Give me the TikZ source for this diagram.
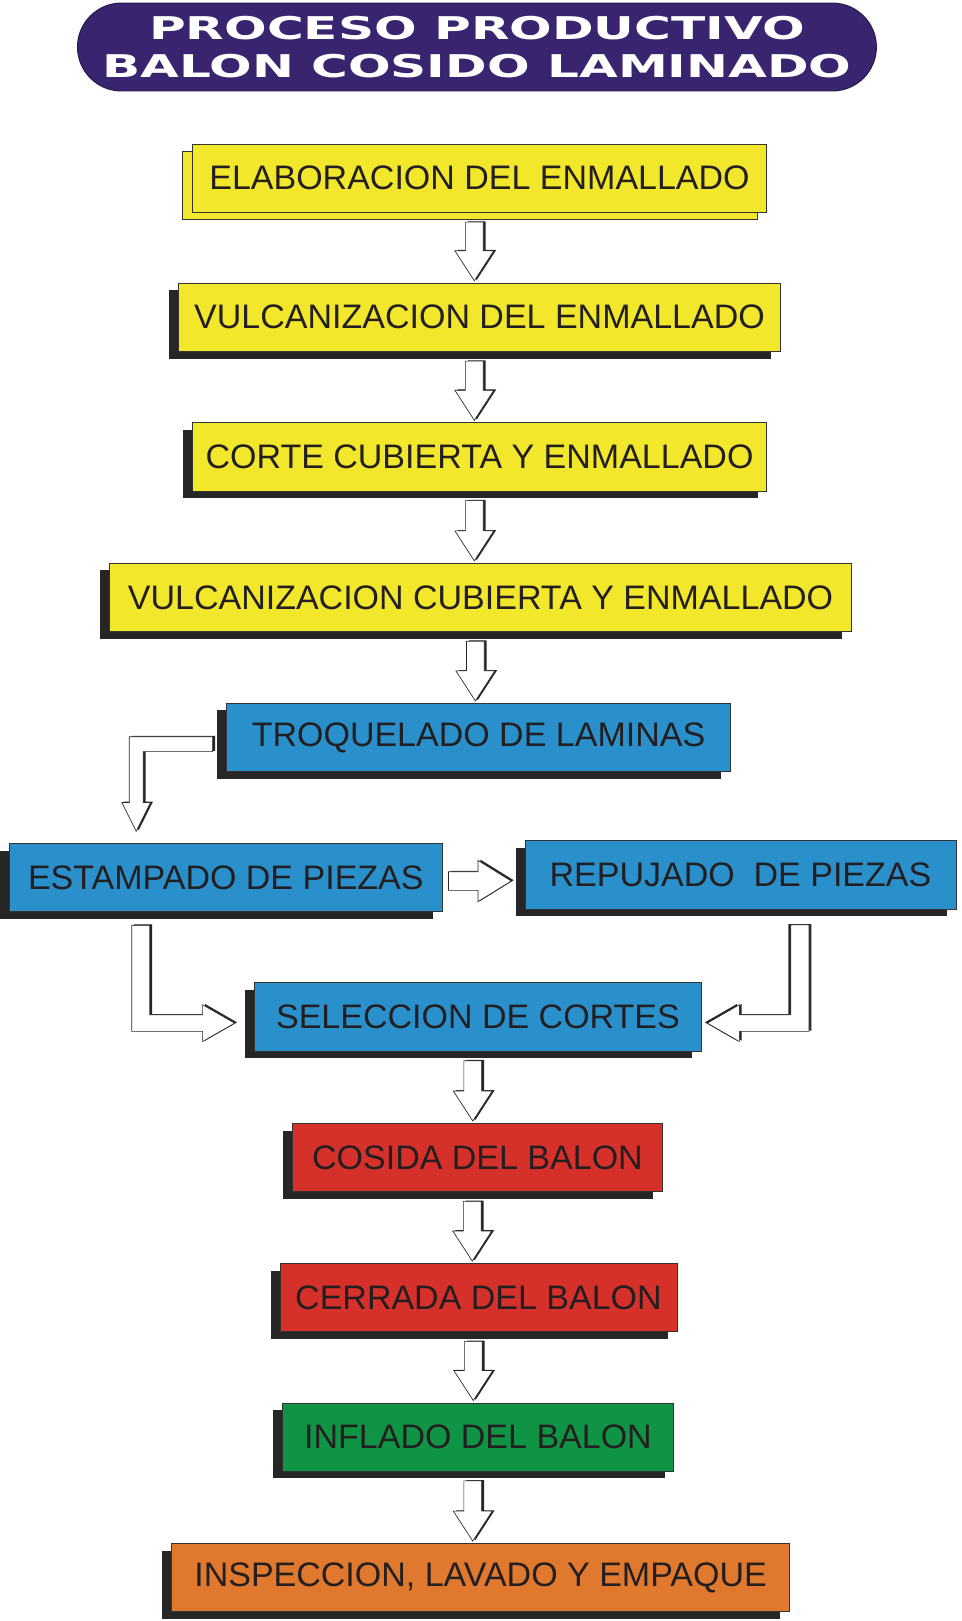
\documentclass[tikz,border=0pt]{standalone}
\usepackage{fontspec}
\setmainfont{Liberation Sans}
\newfontfamily\titlefont[FakeStretch=1.6]{DejaVu Sans}
\usetikzlibrary{shadows,calc}

\definecolor{amarillo}{RGB}{242,231,42}
\definecolor{azul}{RGB}{41,144,204}
\definecolor{rojo}{RGB}{214,48,43}
\definecolor{verde}{RGB}{15,148,70}
\definecolor{naranja}{RGB}{224,120,46}
\definecolor{morado}{RGB}{57,36,112}
\definecolor{texto}{RGB}{35,31,32}

\newcommand{\pxu}{0.7751pt}

\tikzset{
  caja/.style={rectangle, draw=black!80, line width=0.6pt, minimum height={66*\pxu},
    inner sep=0pt, text=texto, font=\fontsize{25.5}{30}\selectfont},
  paso/.style={caja, drop shadow={shadow xshift=-7pt, shadow yshift=-5.4pt, fill=black!85, opacity=1}},
  doble/.style={caja, general shadow={shadow xshift=-7pt, shadow yshift=-5.4pt, fill=amarillo, draw=black!80, line width=0.6pt}},
  flecha/.style={fill=white, draw=black!85, line width=0.5pt, line join=miter,
    drop shadow={shadow xshift=1.8pt, shadow yshift=0.6pt, fill=black!85, opacity=1}},
  flechaizq/.style={flecha, drop shadow={shadow xshift=-1.8pt, shadow yshift=0.6pt, fill=black!85, opacity=1}},
}

% flecha vertical entre dos pasos
\newcommand{\bajar}[2]{%
  \draw[flecha] let \p1=($(#1.south)+(-3.9pt,-7pt)$), \p2=($(#2.north)+(0,1.5pt)$) in
    ({\x1-6.7pt},\y1) -- ({\x1+6.7pt},\y1) -- ({\x1+6.7pt},{\y2+22.5pt})
    -- ({\x1+14.6pt},{\y2+22.5pt}) -- (\x1,\y2) -- ({\x1-14.6pt},{\y2+22.5pt})
    -- ({\x1-6.7pt},{\y2+22.5pt}) -- cycle;}

\begin{document}
\begin{tikzpicture}[x=\pxu, y=-\pxu]
  \useasboundingbox (0,0) rectangle (929.9,1568.5);

  % titulo
  \node[rectangle, rounded corners=33pt, fill=morado, draw=morado!70!black, line width=0.8pt,
    minimum width={773*\pxu}, minimum height={85*\pxu}, inner sep=0pt, text=white, align=center,
    font=\titlefont\bfseries\fontsize{23.5}{28.7}\selectfont] (titulo) at (461.5,45.5)
    {PROCESO PRODUCTIVO\\BALON COSIDO LAMINADO};

  % pasos
  \node[doble, fill=amarillo, minimum width={556*\pxu}] (elab) at (464,172.5) {ELABORACION DEL ENMALLADO};
  \node[paso, fill=amarillo, minimum width={582*\pxu}] (vulcen) at (464,307) {VULCANIZACION DEL ENMALLADO};
  \node[paso, fill=amarillo, minimum width={556*\pxu}] (corte) at (464,442) {CORTE CUBIERTA Y ENMALLADO};
  \node[paso, fill=amarillo, minimum width={718*\pxu}] (vulccub) at (465,578) {VULCANIZACION CUBIERTA Y ENMALLADO};
  \node[paso, fill=azul, minimum width={488*\pxu}] (troq) at (463,713.5) {TROQUELADO DE LAMINAS};
  \node[paso, fill=azul, minimum width={419*\pxu}] (estamp) at (218.5,849) {ESTAMPADO DE PIEZAS};
  \node[paso, fill=azul, minimum width={417*\pxu}] (repuj) at (716.5,846.5) {REPUJADO\ \ DE PIEZAS};
  \node[paso, fill=azul, minimum width={433*\pxu}] (selec) at (462.5,984) {SELECCION DE CORTES};
  \node[paso, fill=rojo, minimum width={358*\pxu}] (cosida) at (462,1120) {COSIDA DEL BALON};
  \node[paso, fill=rojo, minimum width={384*\pxu}] (cerrada) at (463,1255.5) {CERRADA DEL BALON};
  \node[paso, fill=verde, minimum width={379*\pxu}] (inflado) at (462.5,1390.5) {INFLADO DEL BALON};
  \node[paso, fill=naranja, minimum width={598*\pxu}] (inspec) at (465,1526.5) {INSPECCION, LAVADO Y EMPAQUE};

  % flechas rectas
  \bajar{elab}{vulcen}
  \bajar{vulcen}{corte}
  \bajar{corte}{vulccub}
  \bajar{vulccub}{troq}
  \bajar{selec}{cosida}
  \bajar{cosida}{cerrada}
  \bajar{cerrada}{inflado}
  \bajar{inflado}{inspec}

  % troquelado -> estampado
  \draw[flecha] let \p1=(troq.west), \p2=(estamp.north) in
    ({\x1-10pt},{\y1+0.5pt}) -- ({\x2-72.4pt},{\y1+0.5pt}) -- ({\x2-72.4pt},{\y2+30.3pt})
    -- ({\x2-78pt},{\y2+30.3pt}) -- ({\x2-67.2pt},{\y2+8.8pt}) -- ({\x2-56.4pt},{\y2+30.3pt})
    -- ({\x2-62pt},{\y2+30.3pt}) -- ({\x2-62pt},{\y1-10.7pt}) -- ({\x1-10pt},{\y1-10.7pt}) -- cycle;

  % estampado -> repujado
  \draw[flecha] let \p1=($(estamp.east)+(4.3pt,-2.7pt)$), \p2=(repuj.west) in
    (\x1,{\y1+7pt}) -- ({\x2-35pt},{\y1+7pt}) -- ({\x2-35pt},{\y1+15.5pt}) -- ({\x2-10pt},\y1)
    -- ({\x2-35pt},{\y1-15.5pt}) -- ({\x2-35pt},{\y1-7pt}) -- (\x1,{\y1-7pt}) -- cycle;

  % estampado -> seleccion
  \draw[flecha] let \p1=(estamp.south), \p2=(selec.west) in
    ({\x1-70.6pt},{\y1-10pt}) -- ({\x1-57pt},{\y1-10pt}) -- ({\x1-57pt},{\y2+1.55pt})
    -- ({\x2-38.4pt},{\y2+1.55pt}) -- ({\x2-38.4pt},{\y2+9.15pt}) -- ({\x2-14.4pt},{\y2-4.65pt})
    -- ({\x2-38.4pt},{\y2-18.45pt}) -- ({\x2-38.4pt},{\y2-10.85pt}) -- ({\x1-70.6pt},{\y2-10.85pt}) -- cycle;

  % repujado -> seleccion
  \draw[flechaizq] let \p1=(repuj.south), \p2=(selec.east) in
    ({\x1+51.4pt},{\y1-11.6pt}) -- ({\x1+37.8pt},{\y1-11.6pt}) -- ({\x1+37.8pt},{\y2+1.55pt})
    -- ({\x2+27.9pt},{\y2+1.55pt}) -- ({\x2+27.9pt},{\y2+9.15pt}) -- ({\x2+3.9pt},{\y2-4.65pt})
    -- ({\x2+27.9pt},{\y2-18.45pt}) -- ({\x2+27.9pt},{\y2-10.85pt}) -- ({\x1+51.4pt},{\y2-10.85pt}) -- cycle;
\end{tikzpicture}
\end{document}
